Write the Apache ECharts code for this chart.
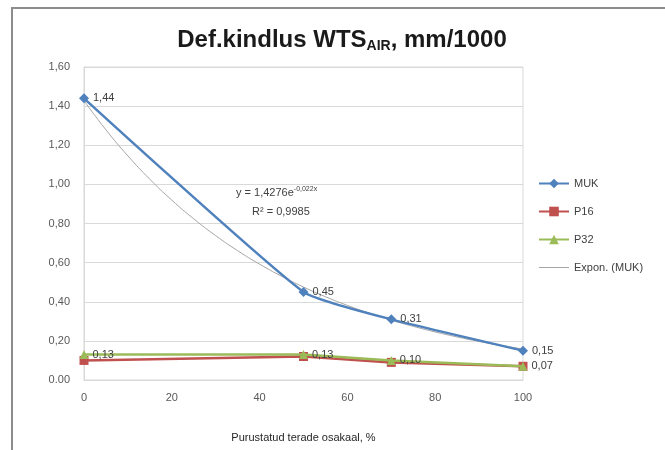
<!DOCTYPE html>
<html><head><meta charset="utf-8">
<script src="https://cdn.jsdelivr.net/npm/echarts@6/dist/echarts.min.js"></script>
<style>html,body{margin:0;padding:0;background:#fff}#c{width:665px;height:450px}</style>
</head><body><div id="c"></div>
<script>
const xValues = [0, 50, 70, 100];
const mukValues = [1.44, 0.45, 0.31, 0.15];
const p16Values = [0.10, 0.12, 0.09, 0.07];
const p32Values = [0.13, 0.13, 0.10, 0.07];
// Exponential trendline as printed on the chart: y = 1.4276 e^(-0.022x)
const trendA = 1.4276;
const trendB = -0.022;
const trendX = [0, 5, 10, 15, 20, 25, 30, 35, 40, 45, 50, 55, 60, 65, 70, 75, 80, 85, 90, 95, 100];
const yTickLabels = ['0.00', '0,20', '0,40', '0,60', '0,80', '1,00', '1,20', '1,40', '1,60'];
const xTickLabels = ['0', '20', '40', '60', '80', '100'];

const fmt = v => v.toFixed(2).replace('.', ',');
const pairs = arr => xValues.map((x, i) => [x, arr[i]]);
const trendData = trendX.map(x => [x, trendA * Math.exp(trendB * x)]);

const chart = echarts.init(document.getElementById('c'), null, {renderer: 'canvas'});
const lbl = {show: true, position: 'right', distance: 4, fontSize: 11, color: '#404040',
  fontFamily: 'Liberation Sans', formatter: p => fmt(p.value[1])};
chart.setOption({
  animation: false,
  backgroundColor: '#fff',
  title: {
    text: 'Def.kindlus WTS{sub|AIR}, mm/1000',
    left: 337, top: 23, textAlign: 'center',
    textStyle: {fontFamily: 'Liberation Sans', fontSize: 24, fontWeight: 'bold', color: '#1a1a1a',
      rich: {sub: {fontFamily: 'Liberation Sans', fontSize: 14, fontWeight: 'bold', color: '#1a1a1a', verticalAlign: 'bottom', padding: [11, 0, 0, 0]}}}
  },
  graphic: [
    {type: 'rect', shape: {x: 12, y: 8, width: 700, height: 500}, style: {fill: 'none', stroke: '#8c8c8c', lineWidth: 2}, z: 0},
    {type: 'text', left: 236, top: 186, style: {text: 'y = 1,4276e{sup|-0,022x}', fontFamily: 'Liberation Sans', fontSize: 11, fill: '#404040',
      rich: {sup: {fontSize: 7, fill: '#404040', verticalAlign: 'top', padding: [0, 0, 7, 0]}}}},
    {type: 'text', left: 252, top: 206, style: {text: 'R² = 0,9985', fontFamily: 'Liberation Sans', fontSize: 11, fill: '#404040'}}
  ],
  legend: {
    orient: 'vertical', left: 533, top: 173, itemGap: 17, itemWidth: 30, itemHeight: 12,
    textStyle: {fontFamily: 'Liberation Sans', fontSize: 11, color: '#404040'},
    data: ['MUK', 'P16', 'P32', {name: 'Expon. (MUK)', icon: 'path://M0,0 L30,0 L30,1 L0,1 Z'}]
  },
  grid: {left: 84, right: 142, top: 67, bottom: 70, show: true, borderColor: '#d9d9d9', borderWidth: 1},
  xAxis: {
    type: 'value', min: 0, max: 100, interval: 20,
    name: 'Purustatud terade osakaal, %', nameLocation: 'middle', nameGap: 52,
    nameTextStyle: {fontFamily: 'Liberation Sans', fontSize: 11, color: '#262626'},
    axisLine: {lineStyle: {color: '#d9d9d9'}}, axisTick: {show: false}, splitLine: {show: false},
    axisLabel: {fontFamily: 'Liberation Sans', fontSize: 11, color: '#595959', margin: 12,
      formatter: (v) => xTickLabels[Math.round(v / 20)]}
  },
  yAxis: {
    type: 'value', min: 0, max: 1.6, interval: 0.2,
    axisLine: {show: true, lineStyle: {color: '#d9d9d9'}}, axisTick: {show: false},
    splitLine: {lineStyle: {color: '#d9d9d9'}},
    axisLabel: {fontFamily: 'Liberation Sans', fontSize: 11, color: '#595959', margin: 14,
      formatter: (v) => yTickLabels[Math.round(v / 0.2)]}
  },
  series: [
    {name: 'Expon. (MUK)', type: 'line', data: trendData, symbol: 'none', smooth: true,
      lineStyle: {color: '#a6a6a6', width: 1}, itemStyle: {color: '#a6a6a6'}, z: 1},
    {name: 'P16', type: 'line', data: pairs(p16Values), symbol: 'rect', symbolSize: 9,
      lineStyle: {color: '#c0504d', width: 2.5}, itemStyle: {color: '#c0504d'}, z: 2},
    {name: 'P32', type: 'line', data: pairs(p32Values), symbol: 'triangle', symbolSize: 9,
      lineStyle: {color: '#9bbb59', width: 2.5}, itemStyle: {color: '#9bbb59'}, label: lbl, z: 3},
    {name: 'MUK', type: 'line', data: pairs(mukValues), symbol: 'diamond', symbolSize: 10, smooth: 0.15,
      lineStyle: {color: '#4f81bd', width: 2.5}, itemStyle: {color: '#4f81bd'}, label: lbl, z: 4}
  ]
});
</script></body></html>
